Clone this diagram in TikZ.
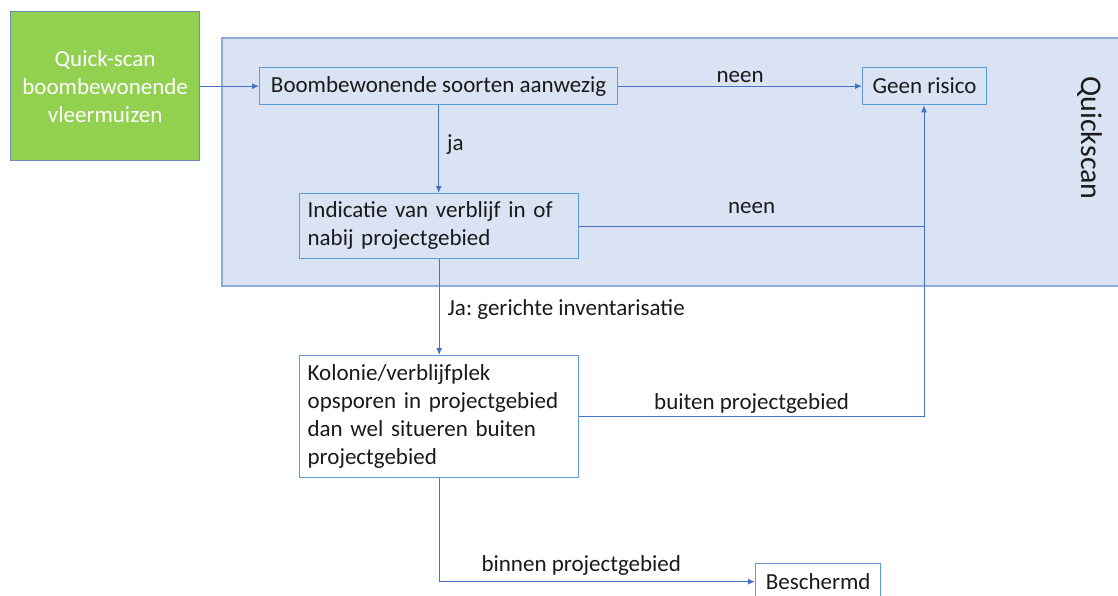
\documentclass[tikz,border=0pt]{standalone}
\usepackage{fontspec}
\setmainfont{Carlito}
\usetikzlibrary{arrows.meta}
\definecolor{boxblue}{HTML}{5B9BD5}
\definecolor{arrowblue}{HTML}{4472C4}
\definecolor{qsfill}{HTML}{DAE3F3}
\definecolor{qsborder}{HTML}{8FAADC}
\definecolor{greenfill}{HTML}{92D050}
\definecolor{greenborder}{HTML}{6D8BB5}
\definecolor{txt}{HTML}{1A1A1A}
\frenchspacing
\newcommand{\lefttext}[1]{\begin{tabular}{@{}l@{}}#1\end{tabular}}
\tikzset{
  every node/.style={font=\fontsize{23}{28}\selectfont, text=txt},
  box/.style={draw=boxblue, line width=1.3pt, inner sep=0pt, anchor=north west, align=left},
  arr/.style={draw=arrowblue, line width=1pt, -{Latex[length=7pt,width=6pt]}},
  ln/.style={draw=arrowblue, line width=1pt},
  lbl/.style={inner sep=0pt}
}
\begin{document}
\begin{tikzpicture}[x=1pt,y=-1pt]
\useasboundingbox (0,0) rectangle (1118,595);
\clip (0,0) rectangle (1118,595);
% Quickscan background region
\draw[fill=qsfill, draw=qsborder, line width=1.5pt] (222,38) rectangle (1130,286);
\node[rotate=-90, font=\fontsize{30}{34}\selectfont, text=txt] (qs) at (1090,138) {Quickscan};
% green start box
\node[draw=greenborder, fill=greenfill, line width=1.3pt, anchor=north west, minimum width=189pt, minimum height=149pt, inner sep=0pt, align=center, text=white] (start) at (10,11) {\textcolor{white}{Quick-scan}\\\textcolor{white}{boombewonende}\\\textcolor{white}{vleermuizen}};
% boxes
\node[box, fill=qsfill, minimum width=358pt, minimum height=37pt] (a) at (259,67) {Boombewonende soorten aanwezig};
\node[box, fill=qsfill, minimum width=124pt, minimum height=37pt] (geen) at (862,67) {Geen risico};
\node[box, fill=qsfill, minimum width=279pt, minimum height=65pt, text width=263pt, inner xsep=8pt] (b) at (299,193) {\lefttext{Indicatie van verblijf in of\\nabij projectgebied}};
\node[box, fill=white, minimum width=279pt, minimum height=122pt, text width=263pt, inner xsep=8pt] (c) at (299,355) {\lefttext{Kolonie/verblijfplek\\opsporen in projectgebied\\dan wel situeren buiten\\projectgebied}};
\node[box, fill=white, minimum width=125pt, minimum height=36pt] (besch) at (755,563) {Beschermd};
% connectors
\draw[arr] (start.east |- a.west) -- (a.west);
\draw[arr] (a.east) -- node[lbl, above=3pt] {neen} (geen.west);
\draw[arr] (a.south) -- node[lbl, right=8pt, pos=0.45] {ja} (a.south |- b.north);
\coordinate (j1) at (924,226);
\draw[ln] (b.east |- j1) -- node[lbl, above=12pt] {neen} (j1);
\coordinate (j2) at (924,416);
\draw[arr] (c.east |- j2) -- node[lbl, above=2pt] {buiten projectgebied} (j2) -- (j2 |- geen.south);
\draw[arr] (b.south) -- node[lbl, right=8pt, pos=0.52] {Ja: gerichte inventarisatie} (c.north);
\coordinate (j3) at (c.south |- besch.west);
\draw[arr] (c.south) -- (j3) -- node[lbl, above=6pt, pos=0.45] {binnen projectgebied} (besch.west);
\end{tikzpicture}
\end{document}
